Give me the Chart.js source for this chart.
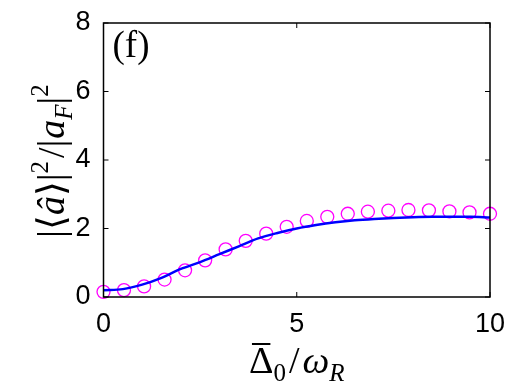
<!DOCTYPE html>
<html>
<head>
<meta charset="utf-8">
<script src="https://cdn.jsdelivr.net/npm/chart.js@4.4.1/dist/chart.umd.min.js"></script>
<style>
  html, body { margin: 0; padding: 0; background: #fff; overflow: hidden; }
  canvas { display: block; }
</style>
</head>
<body>
<canvas id="fig" width="517" height="386"></canvas>
<script>
// simulation (circles) and theory curve (line)
const markerX = [0, 0.53, 1.05, 1.58, 2.11, 2.63, 3.16, 3.68, 4.21, 4.74, 5.26, 5.79, 6.32, 6.84, 7.37, 7.89, 8.42, 8.95, 9.47, 10];
const markerY = [0.15, 0.2, 0.31, 0.51, 0.78, 1.07, 1.39, 1.64, 1.85, 2.05, 2.22, 2.34, 2.43, 2.49, 2.52, 2.54, 2.53, 2.5, 2.47, 2.43];
const curveX = [0, 0.5, 1, 1.5, 2, 2.5, 3, 3.5, 4, 4.5, 5, 5.5, 6, 6.5, 7, 7.5, 8, 8.5, 9, 9.5, 10];
const curveY = [0.2, 0.23, 0.36, 0.56, 0.82, 1.02, 1.25, 1.48, 1.71, 1.87, 2.0, 2.1, 2.18, 2.24, 2.28, 2.31, 2.33, 2.34, 2.34, 2.34, 2.32];
const xTicks = [0, 5, 10];
const yTicks = [0, 2, 4, 6, 8];

const toPts = (xs, ys) => xs.map((x, i) => ({ x: x, y: ys[i] }));

// box + inward ticks + math labels
const frame = {
  id: 'frame',
  afterDatasetsDraw(chart) {
    const { ctx, chartArea: a, scales } = chart;
    ctx.save();
    ctx.strokeStyle = '#000';
    ctx.lineWidth = 1.5;
    ctx.strokeRect(a.left, a.top, a.right - a.left, a.bottom - a.top);
    ctx.lineWidth = 1;
    const t = 5;
    ctx.beginPath();
    xTicks.forEach(v => {
      const px = scales.x.getPixelForValue(v);
      ctx.moveTo(px, a.bottom); ctx.lineTo(px, a.bottom - t);
      ctx.moveTo(px, a.top); ctx.lineTo(px, a.top + t);
    });
    yTicks.forEach(v => {
      const py = scales.y.getPixelForValue(v);
      ctx.moveTo(a.left, py); ctx.lineTo(a.left + t, py);
      ctx.moveTo(a.right, py); ctx.lineTo(a.right - t, py);
    });
    ctx.stroke();

    ctx.fillStyle = '#000';
    ctx.textBaseline = 'alphabetic';
    ctx.textAlign = 'left';
    // panel tag
    ctx.font = '37px "Liberation Serif"';
    ctx.fillText('(f)', a.left + 9, a.top + 34);

    // draw a run of pieces: [text, font, dy, extra gap]
    const run = (pieces, x, y) => {
      const pos = [];
      pieces.forEach(p => {
        ctx.font = p[1];
        ctx.fillText(p[0], x, y + p[2]);
        const w = ctx.measureText(p[0]).width;
        pos.push([x, w]);
        x += w + (p[3] || 0);
      });
      return pos;
    };
    const width = pieces => pieces.reduce((w, p) => { ctx.font = p[1]; return w + ctx.measureText(p[0]).width + (p[3] || 0); }, 0);

    const R = '38px "Liberation Serif"', I = 'italic 38px "Liberation Serif"';
    const r = '25px "Liberation Serif"', i = 'italic 25px "Liberation Serif"';

    // x title
    const xt = [['Δ', R, 0], ['0', r, 8, 3], ['/', R, 0, 3], ['ω', I, 0], ['R', i, 8]];
    const cx = (a.left + a.right) / 2;
    const xb = 373;
    const pos = run(xt, cx - width(xt) / 2, xb);
    // bar over the Delta
    ctx.lineWidth = 2;
    ctx.beginPath();
    ctx.moveTo(pos[0][0] + 3, xb - 29);
    ctx.lineTo(pos[0][0] + pos[0][1] - 3, xb - 29);
    ctx.stroke();

    // y title (rotated)
    const yt = [['|⟨', R, 0], ['â', I, 0], ['⟩|', R, 0], ['2', r, -16, 3], ['/|', R, 0, 1], ['a', I, 0], ['F', i, 8], ['|', R, 0], ['2', r, -16]];
    ctx.translate(64, (a.top + a.bottom) / 2 + 1);
    ctx.rotate(-Math.PI / 2);
    run(yt, -width(yt) / 2, 0);
    ctx.restore();
  }
};

new Chart(document.getElementById('fig'), {
  type: 'scatter',
  data: {
    datasets: [
      {
        label: 'theory',
        data: toPts(curveX, curveY),
        showLine: true,
        borderColor: '#0000ff',
        borderWidth: 2.5,
        pointRadius: 0,
        cubicInterpolationMode: 'monotone',
        order: 1
      },
      {
        label: 'simulation',
        data: toPts(markerX, markerY),
        showLine: false,
        pointRadius: 6.5,
        pointBorderWidth: 1.3,
        pointBorderColor: '#ff00ff',
        pointBackgroundColor: 'rgba(0,0,0,0)',
        clip: false,
        order: 2
      }
    ]
  },
  options: {
    responsive: false,
    animation: false,
    devicePixelRatio: 1,
    layout: { padding: { left: 0, top: 23, right: 27, bottom: 0 } },
    plugins: { legend: { display: false }, tooltip: { enabled: false } },
    scales: {
      x: {
        type: 'linear', min: 0, max: 10,
        grid: { display: false },
        border: { display: false },
        afterFit: s => { s.height = 89; s.paddingLeft = 0; s.paddingRight = 0; },
        afterBuildTicks: s => { s.ticks = xTicks.map(v => ({ value: v })); },
        ticks: { color: '#000', font: { family: 'Liberation Sans', size: 27 }, padding: 3, maxRotation: 0 }
      },
      y: {
        type: 'linear', min: 0, max: 8,
        grid: { display: false },
        border: { display: false },
        afterFit: s => { s.width = 103.5; s.paddingTop = 0; s.paddingBottom = 0; },
        afterBuildTicks: s => { s.ticks = yTicks.map(v => ({ value: v })); },
        ticks: { color: '#000', font: { family: 'Liberation Sans', size: 27 }, padding: 5 }
      }
    }
  },
  plugins: [frame]
});
</script>
</body>
</html>
